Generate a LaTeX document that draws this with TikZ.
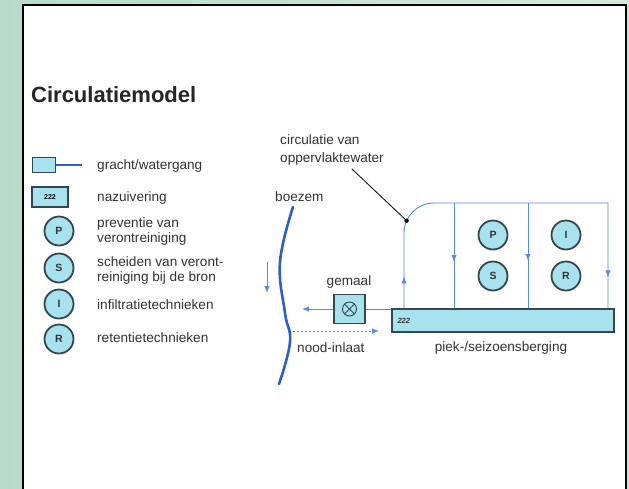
\documentclass[tikz,border=0pt]{standalone}
\usepackage{fontspec}
\setmainfont{Liberation Sans}
\usetikzlibrary{arrows.meta,decorations.markings,calc}
\definecolor{wcyan}{HTML}{A8E2EE}
\definecolor{wblue}{HTML}{5A8CD8}
\definecolor{bblue}{HTML}{2C5FC8}
\definecolor{edgec}{HTML}{34474F}
\definecolor{bgA}{HTML}{B7DBCB}
\definecolor{bgB}{HTML}{D3EBDF}
\definecolor{txt}{HTML}{333333}
\begin{document}
\begin{tikzpicture}[x=1pt,y=-1pt,
  lbl/.style={font=\fontsize{13.6}{15}\selectfont, text=txt, inner sep=0pt, anchor=west, align=left},
  clbl/.style={font=\fontsize{13.6}{15}\selectfont, text=txt, inner sep=0pt},
  letter/.style={circle, draw=edgec, line width=1.8pt, fill=wcyan, minimum size=29pt, inner sep=0pt, font=\fontsize{10.5}{10}\selectfont\bfseries, text=txt},
  wline/.style={draw=wblue, line width=0.9pt},
  tip/.style={-{Latex[length=7pt,width=5.5pt]}},
  boxc/.style={draw=edgec, fill=wcyan, line width=1.3pt, inner sep=0pt},
]
\useasboundingbox (0,0) rectangle (629,488);
\shade[left color=bgA, right color=bgB] (0,0) rectangle (629,488);
\draw[fill=white, line width=1.6pt] (23,5) rectangle (626,500);

% title
\node[anchor=west, inner sep=0pt, font=\fontsize{22}{24}\selectfont\bfseries, text=black!85] (title) at (31,95) {Circulatiemodel};

% legend
\node[boxc, line width=1pt, minimum width=23pt, minimum height=15pt] (lg1) at (43.5,164.5) {};
\coordinate (lg1e) at (82,164.5);
\draw[draw=bblue, line width=2pt] (lg1.east) -- (lg1e);
\node[lbl] (t1) at (97,166) {gracht/watergang};
\node[boxc, line width=1.6pt, minimum width=36pt, minimum height=20pt, font=\fontsize{7}{7}\selectfont\bfseries] (lg2) at (50,197) {222};
\node[lbl] (t2) at (97,198) {nazuivering};
\node[letter] (lP) at (59,231) {P};
\node[lbl] (t3) at (97,231) {preventie van\\verontreiniging};
\node[letter] (lS) at (59,268) {S};
\node[lbl] (t4) at (97,270) {scheiden van veront-\\reiniging bij de bron};
\node[letter] (lI) at (59,304) {I};
\node[lbl] (t5) at (97,305) {infiltratietechnieken};
\node[letter] (lR) at (59,339) {R};
\node[lbl] (t6) at (97,338) {retentietechnieken};

% labels right
\node[lbl, font=\fontsize{13.6}{18.5}\selectfont] (circ) at (280,150) {circulatie van\\oppervlaktewater};
\node[lbl] (boez) at (275,197) {boezem};
\node[clbl] (geml) at (349,282) {gemaal};
\node[lbl] (nood) at (297,348) {nood-inlaat};
\node[clbl] (piek) at (501,348) {piek-/seizoensberging};

% boezem
\draw[bblue, line width=2.6pt, line cap=round] plot[smooth, tension=0.7] coordinates {(293,207) (280,262) (285,313) (290,342) (279,384)};
\coordinate (sa1) at (267,262);
\coordinate (sa2) at (267,293);
\draw[wline, tip] (sa1) -- (sa2);

% basin and gemaal
\node[boxc, minimum width=222pt, minimum height=23pt] (basin) at (503,320.5) {};
\node[anchor=west, inner sep=0pt, font=\fontsize{7.5}{8}\selectfont\bfseries\itshape, text=txt] (bl) at ([xshift=6pt]basin.west) {222};
\node[boxc, minimum width=31pt, minimum height=29pt] (gem) at (349.5,309) {};
\draw[edgec, line width=0.9pt] (gem.center) circle (7pt)
  ($(gem.center)+(45:7pt)$) -- ($(gem.center)+(225:7pt)$)
  ($(gem.center)+(135:7pt)$) -- ($(gem.center)+(-45:7pt)$);
\coordinate (gout) at (302,309);
\draw[wline, tip] (gem.west) -- (gout);
\draw[wline] (gem.east) -- (gem.east -| basin.west);
\coordinate (ni1) at (293,331);
\coordinate (ni2) at (379,331);
\draw[wline, dash pattern=on 2pt off 2pt, tip] (ni1) -- (ni2);

% circulation loop
\coordinate (c1) at (404,203);
\coordinate (c2) at (608,203);
\coordinate (v1) at (454,203);
\coordinate (v2) at (528,203);
\draw[wline, postaction={decorate}, decoration={markings,
    mark=at position 32pt with {\arrow{Latex[length=7pt,width=5.5pt]}},
    mark=at position 88pt with {\coordinate (dot);},
    mark=at position -31pt with {\arrow{Latex[length=7pt,width=5.5pt]}}}]
  (basin.north -| c1) -- ($(c1)+(0,30)$) .. controls ($(c1)+(0,13.4)$) and ($(c1)+(13.4,0)$) .. ($(c1)+(30,0)$) -- (c2) -- (c2 |- basin.north);
\draw[wline, postaction={decorate}, decoration={markings,
    mark=at position 59pt with {\arrow{Latex[length=7pt,width=5.5pt]}}}]
  (v1) -- (v1 |- basin.north);
\draw[wline, postaction={decorate}, decoration={markings,
    mark=at position 58pt with {\arrow{Latex[length=7pt,width=5.5pt]}}}]
  (v2) -- (v2 |- basin.north);
\fill[black] (dot) circle (2.2pt);
\draw[line width=0.8pt] ($(circ.south west)!0.69!(circ.south east)+(0,3)$) -- (dot);

% circles
\node[letter] (cP) at (493,235) {P};
\node[letter] (cS) at (493,276) {S};
\node[letter] (cI) at (566,235) {I};
\node[letter] (cR) at (566,276) {R};
\end{tikzpicture}
\end{document}
